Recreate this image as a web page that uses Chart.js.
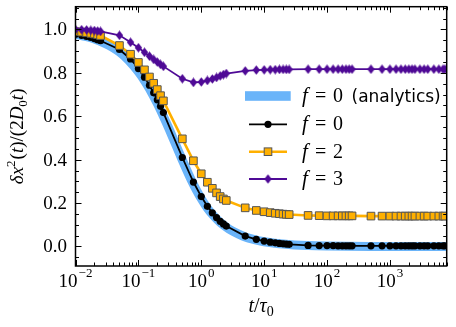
<!DOCTYPE html>
<html>
<head>
<meta charset="utf-8">
<script src="https://cdn.jsdelivr.net/npm/chart.js@4.4.1/dist/chart.umd.min.js"></script>
<style>
  body { margin: 0; background: #fff; }
  canvas { display: block; }
</style>
</head>
<body>
<canvas id="msd" width="456" height="327"></canvas>
<script>
// sampling times (t / tau0), shared by the three simulated series
const times = [0.01, 0.0125, 0.015, 0.0175, 0.02, 0.0225, 0.025,
  0.05, 0.075, 0.1, 0.125, 0.15, 0.175, 0.2, 0.225, 0.25,
  0.5, 0.75, 1, 1.25, 1.5, 1.75, 2, 2.25, 2.5,
  5, 7.5, 10, 12.5, 15, 17.5, 20, 22.5, 25,
  50, 75, 100, 125, 150, 175, 200, 225, 250,
  500, 750, 1000, 1250, 1500, 1750, 2000, 2250, 2500,
  3000, 3500, 4000, 5000, 6000, 7000, 7500];

const f0Vals = [0.978, 0.973, 0.968, 0.963, 0.958, 0.953, 0.948,
  0.908, 0.864, 0.820, 0.780, 0.743, 0.708, 0.676, 0.646, 0.617,
  0.410, 0.297, 0.230, 0.185, 0.155, 0.133, 0.116, 0.104, 0.094,
  0.048, 0.033, 0.025, 0.020, 0.017, 0.014, 0.012, 0.011, 0.010,
  0.005, 0.004, 0.004, 0.004, 0.003, 0.003, 0.003, 0.003, 0.003,
  0.003, 0.003, 0.003, 0.003, 0.003, 0.003, 0.003, 0.003, 0.003,
  0.003, 0.003, 0.003, 0.003, 0.003, 0.003, 0.003];

const f2Vals = [0.990, 0.988, 0.985, 0.982, 0.979, 0.976, 0.972,
  0.926, 0.886, 0.848, 0.814, 0.781, 0.752, 0.723, 0.695, 0.671,
  0.496, 0.395, 0.335, 0.296, 0.268, 0.247, 0.230, 0.219, 0.212,
  0.178, 0.166, 0.160, 0.156, 0.153, 0.151, 0.149, 0.148, 0.147,
  0.143, 0.142, 0.141, 0.141, 0.141, 0.141, 0.141, 0.141, 0.141,
  0.140, 0.140, 0.140, 0.140, 0.140, 0.140, 0.140, 0.140, 0.140,
  0.140, 0.140, 0.140, 0.140, 0.140, 0.140, 0.140];

const f3Vals = [1.000, 0.999, 0.998, 0.996, 0.995, 0.993, 0.991,
  0.973, 0.941, 0.916, 0.895, 0.877, 0.862, 0.850, 0.839, 0.830,
  0.773, 0.756, 0.758, 0.765, 0.772, 0.779, 0.786, 0.792, 0.797,
  0.809, 0.813, 0.814, 0.815, 0.815, 0.816, 0.816, 0.816, 0.816,
  0.817, 0.817, 0.817, 0.817, 0.817, 0.817, 0.817, 0.817, 0.817,
  0.817, 0.817, 0.817, 0.817, 0.817, 0.817, 0.817, 0.817, 0.817,
  0.817, 0.817, 0.817, 0.817, 0.817, 0.817, 0.817];

// analytic curve
const analyticsT = [0.01, 0.015, 0.02, 0.03, 0.04, 0.05, 0.07, 0.1, 0.13, 0.15, 0.2, 0.25, 0.3, 0.4,
  0.5, 0.6, 0.7, 0.85, 1, 1.25, 1.5, 2, 2.5, 3, 4, 5, 7, 10, 15, 20, 30, 50, 100, 200, 500, 1000, 8000];
const analyticsVals = [0.978, 0.967, 0.956, 0.935, 0.915, 0.896, 0.858, 0.805, 0.757, 0.727, 0.659, 0.600, 0.549, 0.464,
  0.398, 0.346, 0.304, 0.256, 0.220, 0.177, 0.148, 0.111, 0.089, 0.074, 0.056, 0.044, 0.032, 0.022, 0.015, 0.011, 0.007, 0.004, 0.002, 0.001, 0.0004, 0.0002, 0.0];

const xTickExps = [-2, -1, 0, 1, 2, 3];
const yTickVals = [0.0, 0.2, 0.4, 0.6, 0.8, 1.0];
const legendLabels = ['0', '0', '2', '3'];

const SERIF = '"Liberation Serif", "DejaVu Serif", serif';
const up = s => s + 'px ' + SERIF;
const it = s => 'italic ' + s + 'px ' + SERIF;

function pts(xs, ys) {
  return xs.map((x, i) => ({x: x, y: ys[i]}));
}

// thin diamond marker like matplotlib's 'd'
const diamond = document.createElement('canvas');
diamond.width = 9;
diamond.height = 10;
(function () {
  const c = diamond.getContext('2d');
  c.fillStyle = '#4f0a96';
  c.beginPath();
  c.moveTo(4.5, 0.3);
  c.lineTo(8.2, 5);
  c.lineTo(4.5, 9.7);
  c.lineTo(0.8, 5);
  c.closePath();
  c.fill();
})();

function drawParts(ctx, parts, x, y, align) {
  let w = 0;
  parts.forEach(p => {
    ctx.font = p.font;
    p.w = ctx.measureText(p.t).width;
    w += p.w + (p.gap || 0);
  });
  let cx = align === 'center' ? x - w / 2 : x;
  parts.forEach(p => {
    ctx.font = p.font;
    ctx.fillText(p.t, cx, y + (p.dy || 0));
    cx += p.w + (p.gap || 0);
  });
}

const axesPlugin = {
  id: 'axesPlugin',
  afterDatasetsDraw(chart) {
    const ctx = chart.ctx;
    const a = chart.chartArea;
    const x = chart.scales.x, y = chart.scales.y;
    ctx.save();
    ctx.strokeStyle = '#000';
    ctx.fillStyle = '#000';

    // inward ticks on all four sides
    ctx.lineWidth = 1;
    ctx.beginPath();
    for (let d = -2; d <= 3; d++) {
      for (let m = 1; m <= 9; m++) {
        const v = m * Math.pow(10, d);
        if (v < x.min || v > x.max) continue;
        const px = Math.round(x.getPixelForValue(v)) + 0.5;
        const len = m === 1 ? 6 : 3.5;
        ctx.moveTo(px, a.bottom); ctx.lineTo(px, a.bottom - len);
        ctx.moveTo(px, a.top); ctx.lineTo(px, a.top + len);
      }
    }
    for (let i = -1; i <= 22; i++) {
      const v = i * 0.05;
      if (v < y.min || v > y.max) continue;
      const py = Math.round(y.getPixelForValue(v)) + 0.5;
      const len = i % 4 === 0 ? 6 : 3.5;
      ctx.moveTo(a.left, py); ctx.lineTo(a.left + len, py);
      ctx.moveTo(a.right, py); ctx.lineTo(a.right - len, py);
    }
    ctx.stroke();

    // frame
    ctx.lineWidth = 1.5;
    ctx.strokeRect(a.left, a.top, a.right - a.left, a.bottom - a.top);

    // tick labels
    ctx.textAlign = 'left';
    ctx.textBaseline = 'alphabetic';
    xTickExps.forEach(e => {
      const px = x.getPixelForValue(Math.pow(10, e));
      const ex = e < 0 ? '\u2212' + (-e) : String(e);
      drawParts(ctx, [
        {t: '10', font: up(19), gap: 1},
        {t: ex, font: up(13), dy: -10}
      ], px, 287, 'center');
    });
    ctx.textAlign = 'right';
    ctx.font = up(19);
    yTickVals.forEach(v => {
      ctx.fillText(v.toFixed(1), 67, y.getPixelForValue(v) + 6);
    });
    ctx.textAlign = 'left';

    // axis titles
    drawParts(ctx, [
      {t: 't', font: it(20)},
      {t: '/', font: up(20)},
      {t: '\u03c4', font: it(20)},
      {t: '0', font: up(14), dy: 4}
    ], (a.left + a.right) / 2, 312, 'center');

    ctx.save();
    ctx.translate(23, (a.top + a.bottom) / 2);
    ctx.rotate(-Math.PI / 2);
    drawParts(ctx, [
      {t: '\u03b4', font: it(19)},
      {t: 'x', font: it(19)},
      {t: '2', font: up(13), dy: -8, gap: 1},
      {t: '(', font: up(19)},
      {t: 't', font: it(19)},
      {t: ')/(2', font: up(19)},
      {t: 'D', font: it(19)},
      {t: '0', font: up(13), dy: 4},
      {t: 't', font: it(19)},
      {t: ')', font: up(19)}
    ], 0, 0, 'center');
    ctx.restore();

    // legend
    const rows = [96, 124.3, 151.7, 179];
    ctx.fillStyle = '#6ab4f9';
    ctx.fillRect(245, rows[0] - 4.8, 45.7, 9.6);
    ctx.lineCap = 'butt';
    ctx.strokeStyle = '#000'; ctx.lineWidth = 1.8;
    ctx.beginPath(); ctx.moveTo(249, rows[1]); ctx.lineTo(287, rows[1]); ctx.stroke();
    ctx.fillStyle = '#000';
    ctx.beginPath(); ctx.arc(268, rows[1], 3.6, 0, Math.PI * 2); ctx.fill();
    ctx.strokeStyle = '#ffb000'; ctx.lineWidth = 2.6;
    ctx.beginPath(); ctx.moveTo(249, rows[2]); ctx.lineTo(287, rows[2]); ctx.stroke();
    ctx.fillStyle = '#ffb000'; ctx.fillRect(264.2, rows[2] - 3.8, 7.6, 7.6);
    ctx.strokeStyle = '#555'; ctx.lineWidth = 1; ctx.strokeRect(264.2, rows[2] - 3.8, 7.6, 7.6);
    ctx.strokeStyle = '#4f0a96'; ctx.lineWidth = 1.8;
    ctx.beginPath(); ctx.moveTo(249, rows[3]); ctx.lineTo(287, rows[3]); ctx.stroke();
    ctx.drawImage(diamond, 268 - 4.5, rows[3] - 5);

    ctx.fillStyle = '#000';
    rows.forEach((r, i) => {
      ctx.font = it(21); ctx.fillText('f', 302, r + 6);
      ctx.font = up(20); ctx.fillText('=', 315, r + 6);
      ctx.fillText(legendLabels[i], 333, r + 6);
      if (i === 0) {
        ctx.font = '17px "DejaVu Sans", sans-serif';
        ctx.fillText('(analytics)', 351.5, r + 6);
      }
    });
    ctx.restore();
  }
};

const chart = new Chart(document.getElementById('msd'), {
  type: 'line',
  data: {
    datasets: [
      {
        label: 'f = 0 (analytics)',
        data: pts(analyticsT, analyticsVals),
        borderColor: '#6ab4f9',
        borderWidth: 9,
        pointRadius: 0,
        cubicInterpolationMode: 'monotone',
        clip: 0,
        order: 4
      },
      {
        label: 'f = 0',
        data: pts(times, f0Vals),
        borderColor: '#000',
        borderWidth: 1.8,
        pointBackgroundColor: '#000',
        pointBorderWidth: 0,
        pointRadius: 3.6,
        clip: 0,
        order: 3
      },
      {
        label: 'f = 2',
        data: pts(times, f2Vals),
        borderColor: '#ffb000',
        borderWidth: 2.6,
        pointStyle: 'rect',
        pointBackgroundColor: '#ffb000',
        pointBorderColor: '#555',
        pointBorderWidth: 1,
        pointRadius: 5.4,
        clip: 0,
        order: 2
      },
      {
        label: 'f = 3',
        data: pts(times, f3Vals),
        borderColor: '#4f0a96',
        borderWidth: 1.8,
        pointStyle: diamond,
        pointRadius: 4,
        clip: 0,
        order: 1
      }
    ]
  },
  options: {
    responsive: false,
    animation: false,
    layout: { padding: { left: 75.5, right: 9.3, top: 6.7, bottom: 61 } },
    elements: { line: { tension: 0 } },
    scales: {
      x: { type: 'logarithmic', min: 0.01, max: 8000, display: false },
      y: { type: 'linear', min: -0.09, max: 1.105, display: false }
    },
    plugins: {
      legend: { display: false },
      tooltip: { enabled: false }
    }
  },
  plugins: [axesPlugin]
});
</script>
</body>
</html>
